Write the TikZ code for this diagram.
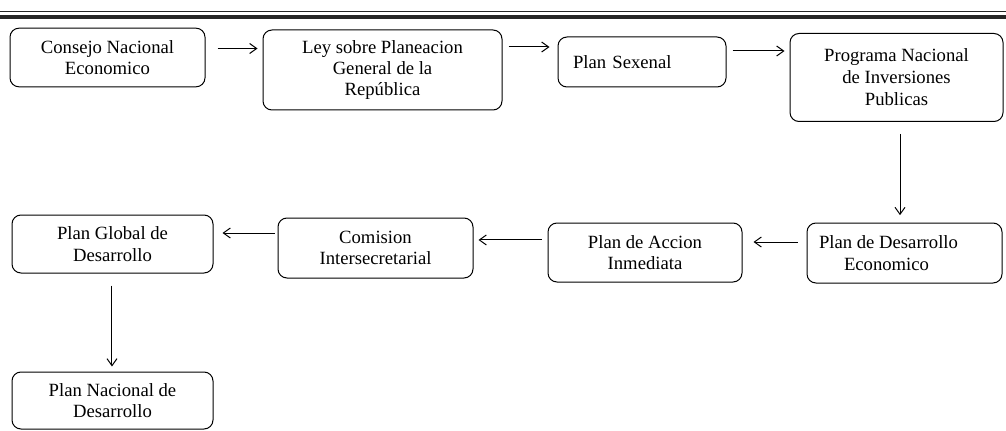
\documentclass[tikz,border=0pt]{standalone}
\usepackage{fontspec}
\setmainfont{Liberation Serif}
\usetikzlibrary{arrows.meta}
\begin{document}
\begin{tikzpicture}[x=0.75pt,y=-0.75pt,
  box/.style={draw, rounded corners=6.75pt, line width=0.75pt, inner sep=1.5pt,
    align=center, font=\fontsize{14}{16}\selectfont},
  arr/.style={-{Straight Barb[length=5.25pt,width=7.5pt]}, line width=0.75pt},
  rule/.style={draw=black!85}]
\useasboundingbox (0,0) rectangle (1006,431);
% header rule
\draw[rule, line width=0.6pt] (0,11) -- (1006,11);
\draw[rule, line width=3pt] (0,17) -- (1006,17);
% top row
\node[box, minimum width=146.25pt, minimum height=44pt] (b1) at (107.5,57.5)
  {Consejo Nacional\\Economico};
\node[box, minimum width=179.25pt, minimum height=60pt] (b2) at (382.5,70)
  {Ley sobre Planeacion\\General de la\\República};
\node[box, minimum width=126pt, minimum height=37.5pt, inner xsep=11.25pt,
  text width=103.5pt, align=left] (b3) at (642,62) {Plan Sexenal};
\node[box, minimum width=159.75pt, minimum height=66pt,
  font=\fontsize{14}{16.5}\selectfont] (b4) at (896.5,77.5)
  {Programa Nacional\\de Inversiones\\Publicas};
% second row
\node[box, minimum width=146.25pt, minimum height=45pt] (b5) at (904.5,253)
  {Plan de Desarrollo\hspace*{24pt}\\Economico\hspace*{27pt}};
\node[box, minimum width=145.5pt, minimum height=44.25pt] (b6) at (645,252.5)
  {Plan de Accion\\Inmediata};
\node[box, minimum width=146.25pt, minimum height=45pt] (b7) at (375.5,248)
  {Comision\\Intersecretarial};
\node[box, minimum width=150.75pt, minimum height=43.5pt] (b8) at (112.5,244)
  {Plan Global de\\Desarrollo};
\node[box, minimum width=150.75pt, minimum height=42.75pt] (b9) at (112.5,400.5)
  {Plan Nacional de\\Desarrollo};
% connectors
\coordinate (a12) at ([yshift=6.75pt]b1.east);
\draw[arr, shorten <=9pt, shorten >=3.75pt] (a12) -- (a12 -| b2.west);
\coordinate (a23) at ([yshift=17.25pt]b2.east);
\draw[arr, shorten <=4.5pt, shorten >=6pt] (a23) -- (a23 -| b3.west);
\coordinate (a34) at ([yshift=8.25pt]b3.east);
\draw[arr, shorten <=4.5pt, shorten >=3.75pt] (a34) -- (a34 -| b4.west);
\coordinate (a45) at (900,134);
\draw[arr, shorten >=5.5pt] (a45) -- (a45 |- b5.north);
\coordinate (a56) at ([yshift=8.25pt]b5.west);
\draw[arr, shorten <=6.75pt, shorten >=8.25pt] (a56) -- (a56 -| b6.east);
\coordinate (a67) at ([yshift=9.4pt]b6.west);
\draw[arr, shorten <=4.5pt, shorten >=3.75pt] (a67) -- (a67 -| b7.east);
\coordinate (a78) at ([yshift=11.25pt]b7.west);
\draw[arr, shorten <=2.25pt, shorten >=6.75pt] (a78) -- (a78 -| b8.east);
\coordinate (a89) at ([xshift=-0.4pt]b8.south);
\draw[arr, shorten <=9pt, shorten >=3.75pt] (a89) -- (a89 |- b9.north);
\end{tikzpicture}
\end{document}
